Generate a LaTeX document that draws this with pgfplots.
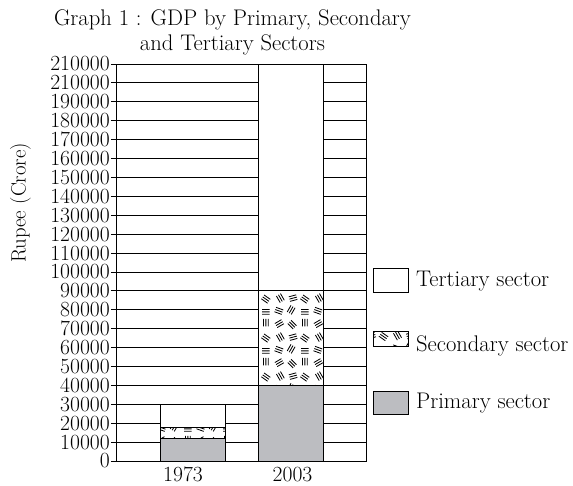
\documentclass[border=0pt]{standalone}
\usepackage{pgfplots}
\pgfplotsset{compat=1.18}
\usetikzlibrary{patterns.meta}
\definecolor{prim}{RGB}{188,189,193}
\newcommand\ff{\fontsize{22.6}{25}\selectfont}
\newcommand\ft{\fontsize{21.6}{25}\selectfont}
\newcommand\fl{\fontsize{20.8}{25}\selectfont}
\tikzdeclarepattern{
  name=secpat,
  type=uncolored,
  bottom left={(0pt,0pt)},
  top right={(39pt,39pt)},
  tile size={(39pt,39pt)},
  code={
    \foreach \x/\y/\a in {6.5/6.5/30, 19.5/5.5/-45, 32.5/7.5/90, 6/19.5/-20, 18.5/20.5/60, 32.5/18.5/0, 7.5/32.5/-60, 20.5/32.5/15, 32.5/31.5/-35}{
      \draw[line width=0.85pt, shift={(\x pt,\y pt)}, rotate=\a]
        (-3.9pt,-2.4pt)--(3.9pt,-2.4pt) (-3.9pt,0pt)--(3.9pt,0pt) (-3.9pt,2.4pt)--(3.9pt,2.4pt);
    }
  }
}
\pgfplotsset{
  primleg/.style={legend image code/.code={\draw[##1] (0pt,-13pt) rectangle (35pt,10pt); \path (42pt,0pt);}},
  secleg/.style={legend image code/.code={\draw[##1] (0pt,-2pt) rectangle (35pt,13pt); \path (42pt,0pt);}},
  terleg/.style={legend image code/.code={\draw[##1] (0pt,-13pt) rectangle (35pt,11pt); \path (42pt,0pt);}},
}
\begin{document}
\begin{tikzpicture}
\begin{axis}[
  at={(0,0)}, anchor=south west,
  scale only axis, width=250pt, height=397pt,
  ybar stacked, bar width=64.6pt,
  xmin=-0.786, xmax=1.765,
  ymin=0, ymax=210000,
  scaled y ticks=false,
  ytick={0,10000,20000,30000,40000,50000,60000,70000,80000,90000,100000,110000,120000,130000,140000,150000,160000,170000,180000,190000,200000,210000},
  yticklabels={0,10000,20000,30000,40000,50000,60000,70000,80000,90000,100000,110000,120000,130000,140000,150000,160000,170000,180000,190000,210000,210000},
  xtick={-0.102,1.015}, xticklabels={1973,2003},
  x tick style={draw=none},
  ytick pos=left, tick align=outside, major tick length=5pt,
  y tick style={black, line width=0.9pt},
  axis line style={black, line width=0.9pt},
  ymajorgrids, grid style={black, line width=0.9pt},
  tick label style={font=\ft},
  yticklabel style={inner sep=1pt},
  xticklabel style={inner sep=0pt, anchor=north, yshift=-1pt},
  ylabel={Rupee (Crore)},
  ylabel style={font=\fl, at={(rel axis cs:-0.382,0.65)}, anchor=center},
  title={Graph 1 : GDP by Primary, Secondary\\and Tertiary Sectors},
  title style={font=\ff, at={(rel axis cs:0.466,1.121)}, anchor=north, align=center, inner sep=0pt},
  legend style={font=\ff, at={(rel axis cs:1.028,0.486)}, anchor=north west, draw=none, fill=none,
    inner sep=0pt, row sep=38pt, nodes={inner sep=0pt}},
  legend cell align=left,
  reverse legend,
]
\addplot[fill=prim, draw=black, line width=0.9pt, primleg]
  coordinates {(0,12000) (1,40000)};
\addplot[fill=white, draw=black, line width=0.9pt, postaction={pattern=secpat, pattern color=black}, secleg]
  coordinates {(0,5500) (1,50000)};
\addplot[fill=white, draw=black, line width=0.9pt, terleg]
  coordinates {(0,12500) (1,120000)};
\legend{Primary sector, Secondary sector, Tertiary sector}
\end{axis}
\pgfresetboundingbox
\path (-116pt,-24pt) rectangle (457pt,461pt);
\end{tikzpicture}
\end{document}
